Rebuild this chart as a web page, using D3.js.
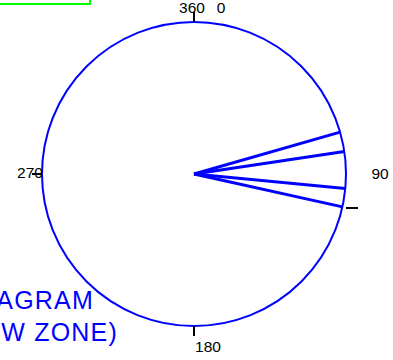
<!DOCTYPE html>
<html>
<head>
<meta charset="utf-8">
<script src="https://cdn.jsdelivr.net/npm/d3@7"></script>
<style>
  html, body { margin: 0; padding: 0; background: #fff; overflow: hidden; }
  svg { display: block; }
</style>
</head>
<body>
<svg id="chart" width="393" height="360"></svg>
<script>
// Observed directions (degrees clockwise from north) and relative magnitudes
const directions = [74, 81.5, 95.5, 102.5];
const magnitudes = [1, 1, 1, 1];

// Compass tick angles and their labels
const tickAngles = [0, 90, 180, 270];
const tickLabels = ["360", "90", "180", "270"];
const titleLines = ["ROSE DIAGRAM", "(SHADOW ZONE)"];

const svg = d3.select("#chart");
const cx = 194, cy = 174, R = 152;

const angle = d3.scaleLinear().domain([0, 360]).range([0, 2 * Math.PI]);
const radius = d3.scaleLinear().domain([0, 1]).range([0, R]);

const px = (deg, r) => cx + r * Math.sin(angle(deg));
const py = (deg, r) => cy - r * Math.cos(angle(deg));

// legend frame, mostly outside the view
svg.append("rect")
  .attr("x", -20).attr("y", -30)
  .attr("width", 110).attr("height", 34)
  .attr("fill", "none")
  .attr("stroke", "#00ff00")
  .attr("stroke-width", 2);

// outer circle
svg.append("circle")
  .attr("cx", cx).attr("cy", cy).attr("r", radius(1))
  .attr("fill", "none")
  .attr("stroke", "#0000ff")
  .attr("stroke-width", 2);

// rays
const rays = directions.map((d, i) => ({ dir: d, mag: magnitudes[i] }));
svg.append("g").selectAll("line")
  .data(rays)
  .join("line")
  .attr("x1", cx).attr("y1", cy)
  .attr("x2", d => px(d.dir, radius(d.mag)))
  .attr("y2", d => py(d.dir, radius(d.mag)))
  .attr("stroke", "#0000ff")
  .attr("stroke-width", 3);

// compass ticks (east tick sits lower on the rim)
const tickNudge = { 90: 34 };
const ticks = svg.append("g");
ticks.selectAll("line")
  .data(tickAngles)
  .join("line")
  .attr("x1", d => px(d, radius(1)))
  .attr("y1", d => py(d, radius(1)) + (tickNudge[d] || 0))
  .attr("x2", d => px(d, radius(1) + 10) + (d === 90 ? 2 : 0))
  .attr("y2", d => py(d, radius(1) + 10) + (tickNudge[d] || 0))
  .attr("stroke", "#000")
  .attr("stroke-width", 2);

// tick labels
const labelPos = {
  0:   { dx: -2, dy: -161 },
  90:  { dx: 186, dy: 5 },
  180: { dx: 14, dy: 178 },
  270: { dx: -164, dy: 4 }
};
const lab = svg.append("g")
  .attr("font-family", "Liberation Sans, Arial, sans-serif")
  .attr("font-size", 15.5)
  .attr("fill", "#000");
tickAngles.forEach((a, i) => {
  lab.append("text")
    .attr("x", cx + labelPos[a].dx)
    .attr("y", cy + labelPos[a].dy)
    .attr("text-anchor", "middle")
    .text(tickLabels[i]);
});
lab.append("text")
  .attr("x", cx + 27).attr("y", cy - 161)
  .attr("text-anchor", "middle")
  .text("0");

// title
svg.append("g")
  .attr("font-family", "Liberation Sans, Arial, sans-serif")
  .attr("font-size", 25)
  .attr("letter-spacing", 1.2)
  .attr("fill", "#0000ff")
  .attr("text-anchor", "end")
  .selectAll("text")
  .data(titleLines)
  .join("text")
  .attr("x", (d, i) => i === 0 ? 94 : 118)
  .attr("y", (d, i) => 309 + i * 32)
  .text(d => d);
</script>
</body>
</html>
